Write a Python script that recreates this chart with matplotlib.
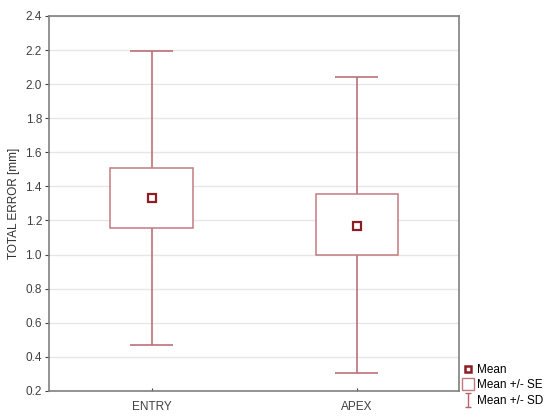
import matplotlib
matplotlib.use("Agg")
import matplotlib.pyplot as plt
from matplotlib.lines import Line2D
from matplotlib.path import Path
from matplotlib.patches import Rectangle

plt.rcParams['font.family'] = ['Liberation Sans', 'DejaVu Sans']

# data
groups = ["ENTRY", "APEX"]
means = [1.33, 1.17]
se_low = [1.155, 0.995]
se_high = [1.51, 1.355]
sd_low = [0.47, 0.305]
sd_high = [2.195, 2.04]

dark = "#8e1c24"
line_col = "#b8646c"
box_col = "#c27a80"


def main():
    fig = plt.figure(figsize=(5.5, 4.19), dpi=100)
    ax = fig.add_axes([0.089, 0.067, 0.746, 0.895])

    box_w = 0.4
    cap_w = 0.21
    for i in range(len(groups)):
        # whiskers (mean +/- SD)
        ax.vlines(i, sd_low[i], se_low[i], color=line_col, lw=1.1, zorder=2)
        ax.vlines(i, se_high[i], sd_high[i], color=line_col, lw=1.1, zorder=2)
        ax.hlines([sd_low[i], sd_high[i]], i - cap_w / 2, i + cap_w / 2,
                  color=line_col, lw=1.1, zorder=2)
        # box (mean +/- SE)
        ax.add_patch(Rectangle((i - box_w / 2, se_low[i]), box_w,
                               se_high[i] - se_low[i], facecolor="white",
                               edgecolor=box_col, lw=1.1, zorder=3))
    ax.plot(range(len(groups)), means, ls="", marker="s", ms=5.5,
            mfc="white", mec=dark, mew=1.6, zorder=4)

    ax.set_xlim(-0.5, 1.5)
    ax.set_ylim(0.2, 2.4)
    ax.set_yticks([0.2 + 0.2 * k for k in range(12)])
    ax.set_yticklabels(["%.1f" % (0.2 + 0.2 * k) for k in range(12)])
    ax.set_xticks(range(len(groups)))
    ax.set_xticklabels(groups)
    ax.tick_params(axis="y", length=3, direction="out", colors="#404040",
                   labelsize=8.5, pad=2)
    ax.tick_params(axis="x", length=2, direction="in", colors="#404040",
                   labelsize=8.5, pad=7)
    ax.grid(axis="y", color="#e6e6e6", lw=1)
    ax.set_axisbelow(True)
    for s in ax.spines.values():
        s.set_color("#808080")
        s.set_linewidth(1.2)
    ax.set_ylabel("TOTAL ERROR [mm]", fontsize=8.5, color="#303030", labelpad=4)

    ibeam = Path([(-0.5, 1), (0.5, 1), (0, 1), (0, -1), (-0.5, -1), (0.5, -1)],
                 [Path.MOVETO, Path.LINETO, Path.MOVETO, Path.LINETO,
                  Path.MOVETO, Path.LINETO])
    handles = [
        Line2D([], [], ls="", marker="s", ms=4.5, mfc="white", mec=dark, mew=1.8),
        Line2D([], [], ls="", marker="s", ms=9, mfc="white", mec=box_col, mew=1),
        Line2D([], [], ls="", marker=ibeam, ms=10, mec=line_col, mew=1, mfc="none"),
    ]
    fig.legend(handles, ["Mean", "Mean +/- SE", "Mean +/- SD"],
               loc="lower left", bbox_to_anchor=(0.83, 0.012), frameon=False,
               fontsize=8.5, handlelength=0.8, handletextpad=0.35,
               labelspacing=0.3, borderpad=0.1)

    fig.savefig("out.png", dpi=100)


if __name__ == "__main__":
    main()
